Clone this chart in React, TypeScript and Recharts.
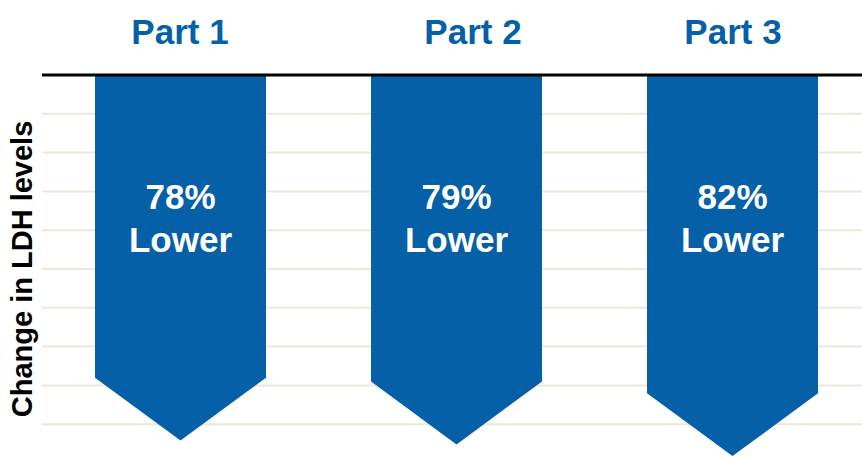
import React from 'react'
import { BarChart, Bar, XAxis, YAxis, CartesianGrid, LabelList } from 'recharts'

// categories and values
const parts = ['Part 1', 'Part 2', 'Part 3']
const reductions = [78, 79, 82]
const reductionLabels = ['78%', '79%', '82%']
const subLabel = 'Lower'
const yTicks = [0, 10, 20, 30, 40, 50, 60, 70, 80, 90, 100]
const yAxisTitle = 'Change in LDH levels'

const data = parts.map((part, i) => ({
    part,
    value: reductions[i],
    label: reductionLabels[i],
}))

const BLUE = '#0560A8'
const FONT = '"Liberation Sans", Arial, sans-serif'
const titleNudge = [0, 17, 1] // the middle title sits a bit right of its arrow

// bar drawn as a downward arrow: rectangle + pointed head below the value
const ArrowBar = (props: any) => {
    const { x, y, width, height, fill } = props
    const top = Math.min(y, y + height)
    const bottom = Math.max(y, y + height)
    const head = width * 0.368
    const cx = x + width / 2
    const d = `M${x},${top} L${x + width},${top} L${x + width},${bottom} L${cx},${bottom + head} L${x},${bottom} Z`
    return <path d={d} fill={fill} />
}

const ArrowLabel = (props: any) => {
    const vb = props.viewBox ?? props
    const { x, y, width, height } = vb
    const top = Math.min(y, y + height)
    const cx = x + width / 2
    return (
        <text
            textAnchor='middle'
            fill='#ffffff'
            fontFamily={FONT}
            fontWeight='bold'
            fontSize={35}
        >
            <tspan x={cx} y={top + 134}>{props.value}</tspan>
            <tspan x={cx} y={top + 177}>{subLabel}</tspan>
        </text>
    )
}

const PartTick = (props: any) => {
    const { x, y, payload, index } = props
    return (
        <text
            x={x + (titleNudge[index] ?? 0)}
            y={y}
            dy={-31}
            textAnchor='middle'
            fill={BLUE}
            fontFamily={FONT}
            fontWeight='bold'
            fontSize={35}
        >
            {payload.value}
        </text>
    )
}

// y ticks stay (the grid needs them) but draw nothing
const HiddenTick = () => <g />

const YTitle = (props: any) => {
    const vb = props.viewBox
    const tx = vb.x + vb.width - 10
    const ty = vb.y + vb.height / 2
    return (
        <text
            x={tx}
            y={ty}
            transform={`rotate(-90, ${tx}, ${ty})`}
            textAnchor='middle'
            fill='#000000'
            fontFamily={FONT}
            fontWeight='bold'
            fontSize={29}
        >
            {yAxisTitle}
        </text>
    )
}

export default function App() {
    return (
        <div
            style={{
                position: 'absolute',
                left: 0,
                top: 0,
                width: 862,
                height: 457,
                overflow: 'hidden',
                background: '#ffffff',
            }}
        >
            <BarChart
                width={870}
                height={463}
                data={data}
                margin={{ top: 0, right: 0, left: 0, bottom: 0 }}
            >
                <CartesianGrid
                    vertical={false}
                    stroke='#EBE7DB'
                    strokeWidth={2}
                />
                <XAxis
                    dataKey='part'
                    orientation='top'
                    height={75}
                    tickSize={0}
                    tickMargin={0}
                    tickLine={false}
                    axisLine={{ stroke: '#000000', strokeWidth: 3 }}
                    tick={<PartTick />}
                    interval={0}
                />
                <YAxis
                    reversed
                    domain={[0, 100]}
                    ticks={yTicks}
                    interval={0}
                    width={42}
                    tick={<HiddenTick />}
                    tickLine={false}
                    axisLine={false}
                    label={{ content: <YTitle /> }}
                />
                <Bar
                    dataKey='value'
                    fill={BLUE}
                    barSize={171}
                    shape={<ArrowBar />}
                    isAnimationActive={false}
                >
                    <LabelList dataKey='label' content={<ArrowLabel />} />
                </Bar>
            </BarChart>
        </div>
    )
}
